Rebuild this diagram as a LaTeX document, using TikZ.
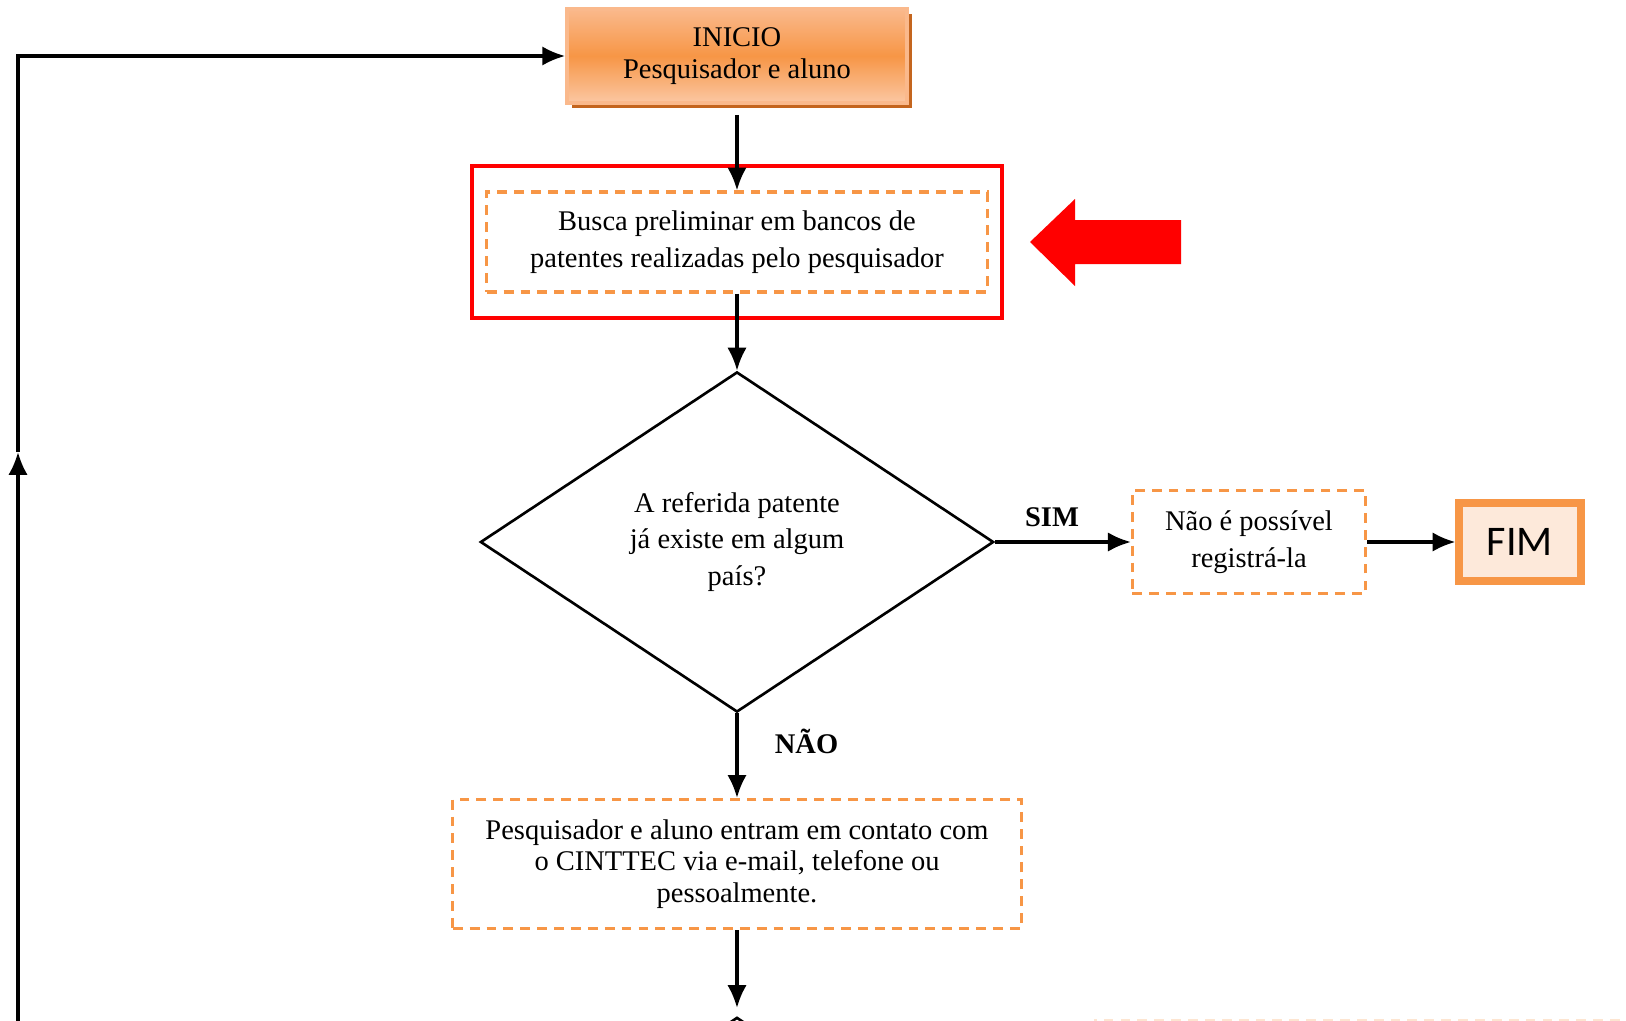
\documentclass[tikz,border=0pt]{standalone}
\usepackage{fontspec}
\setmainfont{Liberation Serif}
\newfontfamily\calibri{Carlito}
\usetikzlibrary{arrows.meta,shapes.geometric,shadows,positioning}
\definecolor{laranja}{HTML}{F79646}
\definecolor{laranjaclaro}{HTML}{FAB98C}
\definecolor{sombra}{HTML}{C4651E}
\definecolor{pessego}{HTML}{FDE9DA}
\tikzset{
	texto/.style={font=\fontsize{8.1}{10.5}\selectfont, align=center},
	caixa/.style={texto, draw=laranja, line width=0.9pt, dash pattern=on 2.8pt off 2pt},
	inicio/.style={texto, font=\fontsize{8.1}{9.2}\selectfont, draw=laranjaclaro, line width=1pt, top color=laranjaclaro, bottom color=laranjaclaro!80, middle color=laranja, drop shadow={shadow xshift=0.05cm, shadow yshift=-0.05cm, fill=sombra, opacity=1}},
	decisao/.style={texto, diamond, draw, line width=0.75pt, inner sep=0pt},
	fim/.style={draw=laranja, line width=0.08cm, fill=pessego, font=\calibri\fontsize{12}{14}\selectfont},
	rotulo/.style={font=\bfseries\fontsize{8.1}{10}\selectfont}
}
\begin{document}
\begin{tikzpicture}[x=0.01cm, y=-0.01cm, >={Latex[length=6.5pt,width=5.5pt]}, line width=0.9pt]
	\useasboundingbox (0,0) rectangle (1626,1021);
	\clip (0,0) rectangle (1626,1021);
	% nos
	\node[inicio, minimum width=3.40cm, minimum height=0.94cm] (inicio) at (737,56) {\raisebox{-2pt}{INICIO}\\\raisebox{-2pt}{Pesquisador e aluno}};
	\node[caixa, minimum width=5.00cm, minimum height=1.00cm] (busca) at (737,242) {Busca preliminar em bancos de\\patentes realizadas pelo pesquisador};
	\node[draw=red, line width=1.1pt, minimum width=5.30cm, minimum height=1.52cm] (destaque) at (737,242) {};
	\node[decisao, minimum width=5.13cm, minimum height=3.40cm] (existe) at (737,542) {A referida patente\\já existe em algum\\país?};
	\node[caixa, minimum width=2.33cm, minimum height=1.03cm] (naopode) at (1249,542) {Não é possível\\registrá-la};
	\node[fim, minimum width=1.21cm, minimum height=0.78cm] (fim) at (1520,542) {FIM};
	\node[caixa, texto, font=\fontsize{8.1}{9}\selectfont, minimum width=5.68cm, minimum height=1.29cm] (contato) at (737,864) {Pesquisador e aluno entram em contato com\\o CINTTEC via e-mail, telefone ou\\pessoalmente.};
	\node[decisao, minimum width=5.13cm, minimum height=3.40cm, anchor=north] (proximo) at (737,1016) {};
	\node[draw=laranja!25, line width=0.9pt, dash pattern=on 2.8pt off 2pt, minimum width=6cm, minimum height=1cm, anchor=north west] (seguinte) at (1094,1019) {};
	\coordinate (retorno) at (18,1030);
	\coordinate (subida) at (18,452);
	% seta vermelha
	\fill[red] (1030,242) -- (1075,199) -- (1075,220) -- (1181,220) -- (1181,264) -- (1075,264) -- (1075,286) -- cycle;
	% ligacoes
	\draw[->] ([yshift=-0.1cm]inicio.south) -- (busca);
	\draw[->] (busca) -- (existe);
	\draw[->] (existe.east) -- (naopode) node[pos=0.42, above=0.5pt, rotulo]{SIM};
	\draw[->] (naopode) -- (fim);
	\draw[->] (existe.south) -- (contato) node[pos=0.33, right=7pt, rotulo]{NÃO};
	\draw[->] (contato) -- ([yshift=0.08cm]proximo.north);
	\draw[->] (retorno) -- (subida);
	\draw[->] (subida) |- (inicio);
\end{tikzpicture}
\end{document}
